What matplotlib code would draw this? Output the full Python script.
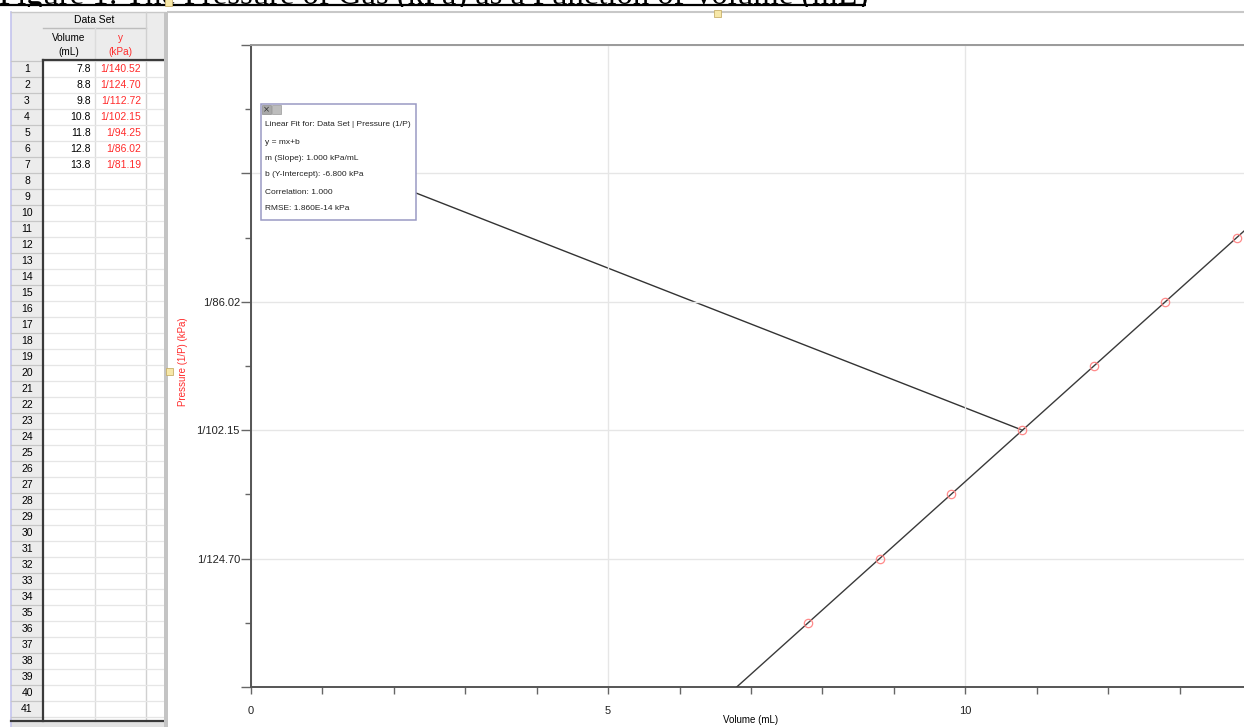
import matplotlib
matplotlib.use("Agg")
import numpy as np
import matplotlib.pyplot as plt
from matplotlib.patches import Rectangle, ConnectionPatch
from matplotlib.ticker import FixedLocator, MultipleLocator, FuncFormatter

# ---- data -----------------------------------------------------------------
volume_ml = [7.8, 8.8, 9.8, 10.8, 11.8, 12.8, 13.8]
pressure_labels = ["1/140.52", "1/124.70", "1/112.72", "1/102.15",
                   "1/94.25", "1/86.02", "1/81.19"]
inv_pressure = [1, 2, 3, 4, 5, 6, 7]          # plotted values of the 1/P column
labeled_rows = [1, 3, 5]                      # rows whose 1/P text labels the y axis
fit_slope = 1.000
fit_intercept = -6.800
fit_lines = ["Linear Fit for: Data Set | Pressure (1/P)",
             "y = mx+b",
             "m (Slope): 1.000 kPa/mL",
             "b (Y-Intercept): -6.800 kPa",
             "Correlation: 1.000",
             "RMSE: 1.860E-14 kPa"]
x_major = [0, 5, 10]
y_major = [0, 2, 4, 6, 8, 10]
n_table_rows = 41

TITLE = "Figure 1: The Pressure of Gas (kPa) as a Function of Volume (mL)"
UI = "Liberation Sans"
RED = "#ff2b2b"

W, H = 1244, 727
fig = plt.figure(figsize=(W / 100, H / 100), dpi=100)

# ---- background layer (pixel coordinates) ---------------------------------
bg = fig.add_axes([0, 0, 1, 1], zorder=0)
bg.set_xlim(0, W)
bg.set_ylim(H, 0)
bg.axis("off")

bg.text(-1, 3.5, TITLE, family="Liberation Serif", fontsize=23.5, ha="left",
        va="baseline", color="black", zorder=1, clip_on=False)
bg.plot([0, 866], [5, 5], color="black", lw=1.6, zorder=1, solid_capstyle="butt")
bg.add_patch(Rectangle((0, 6.5), W, H, facecolor="white", edgecolor="none", zorder=2))

# spreadsheet panel
z = 3
bg.add_patch(Rectangle((11, 12), 32, 710, facecolor="#ececec", edgecolor="none", zorder=z))
bg.add_patch(Rectangle((43, 12), 122, 48, facecolor="#ececec", edgecolor="none", zorder=z))
bg.plot([11, 11], [12, 727], color="#c4c4ee", lw=1.2, zorder=z + 1)
bg.plot([11, 165], [12, 12], color="#c8c8c8", lw=1, zorder=z + 1)
bg.plot([43, 146], [28, 28], color="#bdbdbd", lw=1, zorder=z + 1)
bg.plot([146, 146], [12, 721], color="#d0d0d0", lw=1, zorder=z + 1)
bg.plot([95, 95], [28, 721], color="#dcdcdc", lw=1, zorder=z + 1)
for k in range(n_table_rows + 1):
    yy = 61 + 16 * k
    if yy > 721:
        break
    bg.plot([43, 165], [yy, yy], color="#e6e6e6", lw=0.9, zorder=z + 1)
    bg.plot([11, 43], [yy, yy], color="#c6c6c6", lw=0.9, zorder=z + 1)
bg.plot([43, 43], [60, 721], color="#3a3a3a", lw=1.6, zorder=z + 2)
bg.plot([43, 165], [60, 60], color="#3a3a3a", lw=1.6, zorder=z + 2)
bg.plot([11, 165], [721, 721], color="#3a3a3a", lw=1.6, zorder=z + 2)
bg.add_patch(Rectangle((11, 722), 154, 6, facecolor="#e2e2e2", edgecolor="none", zorder=z))
bg.add_patch(Rectangle((164, 12), 4, 716, facecolor="#c4c4c4", edgecolor="none", zorder=z + 2))

bg.text(94, 20, "Data Set", family=UI, fontsize=7.5, ha="center", va="center", zorder=z + 3)
bg.text(69, 38, "Volume", family=UI, fontsize=7.2, ha="center", va="center", zorder=z + 3)
bg.text(69, 52, "(mL)", family=UI, fontsize=7.2, ha="center", va="center", zorder=z + 3)
bg.text(120, 38, "y", family=UI, fontsize=7.2, ha="center", va="center", color=RED, zorder=z + 3)
bg.text(120, 52, "(kPa)", family=UI, fontsize=7.2, ha="center", va="center", color=RED, zorder=z + 3)
for k in range(n_table_rows):
    bg.text(27, 69 + 16 * k, str(k + 1), family=UI, fontsize=7.5, ha="center",
            va="center", zorder=z + 3)
for k, (v, lab) in enumerate(zip(volume_ml, pressure_labels)):
    yy = 69 + 16 * k
    bg.text(91, yy, f"{v:.1f}", family=UI, fontsize=7.5, ha="right", va="center", zorder=z + 3)
    bg.text(141, yy, lab, family=UI, fontsize=7.5, ha="right", va="center",
            color=RED, zorder=z + 3)

# graph frame top edge
bg.plot([168, W], [12, 12], color="#c8c8c8", lw=1.5, zorder=z)

# axis titles
bg.text(751, 720, "Volume (mL)", family=UI, fontsize=7, ha="center", va="center", zorder=z)
bg.text(183, 362, "Pressure (1/P) (kPa)", family=UI, fontsize=7, ha="center",
        va="center", rotation=90, color=RED, zorder=z)

# ---- graph ----------------------------------------------------------------
ax = fig.add_axes([251 / W, (H - 687) / H, 1000 / W, 642 / H], zorder=1)
ax.patch.set_alpha(0)
ax.set_xlim(0, 14)
ax.set_ylim(0, 10)

ax.xaxis.set_major_locator(FixedLocator(x_major))
ax.xaxis.set_minor_locator(MultipleLocator(1))
ax.yaxis.set_major_locator(FixedLocator(y_major))
ax.yaxis.set_minor_locator(MultipleLocator(1))

ytext = {inv_pressure[i]: pressure_labels[i] for i in labeled_rows}
ax.yaxis.set_major_formatter(FuncFormatter(lambda v, p: ytext.get(int(round(v)), "")))

ax.tick_params(axis="x", which="both", direction="out", length=5, width=1,
               color="#666666", pad=9, labelsize=8, labelcolor="#222222")
ax.tick_params(axis="y", which="major", direction="out", length=7, width=1,
               color="#666666", pad=1, labelsize=8, labelcolor="#222222")
ax.tick_params(axis="y", which="minor", direction="out", length=4, width=1, color="#666666")
for lbl in ax.get_xticklabels() + ax.get_yticklabels():
    lbl.set_family(UI)

ax.grid(True, which="major", color="#e6e6e6", lw=1)
ax.set_axisbelow(True)
for side in ("left", "bottom"):
    ax.spines[side].set_color("#555555")
    ax.spines[side].set_linewidth(1.4)
ax.spines["top"].set_color("#9a9a9a")
ax.spines["top"].set_linewidth(1.4)
ax.spines["right"].set_visible(False)

fx = np.array([0.0, 14.0])
ax.plot(fx, fit_slope * fx + fit_intercept, color="#3a3a3a", lw=1.0, zorder=3)
ax.plot(volume_ml, inv_pressure, "o", mfc="none", mec="#ff8a8a", ms=6, mew=0.9, zorder=4)

# ---- foreground layer: fit statistics box and handles ---------------------
fg = fig.add_axes([0, 0, 1, 1], zorder=2)
fg.set_xlim(0, W)
fg.set_ylim(H, 0)
fg.axis("off")
fg.patch.set_alpha(0)

fg.add_patch(Rectangle((261, 104), 155, 116, facecolor="white", edgecolor="#9a9ac4", lw=1.1))
fg.add_patch(Rectangle((262, 105), 9, 9, facecolor="#a8a8a8", edgecolor="#8a8a8a", lw=0.5))
fg.text(266.5, 109.5, "×", family="DejaVu Sans", fontsize=6, ha="center", va="center", color="#333333")
fg.add_patch(Rectangle((272, 105), 9, 9, facecolor="#bdbdbd", edgecolor="#9a9a9a", lw=0.5))
for yy, line in zip([124, 142, 158, 175, 192, 209], fit_lines):
    fg.text(265, yy, line, family=UI, fontsize=6, ha="left", va="center", color="#222222")

con = ConnectionPatch(xyA=(416, 193), coordsA=fg.transData,
                      xyB=(volume_ml[3], inv_pressure[3]), coordsB=ax.transData,
                      color="#333333", lw=1.0)
fig.add_artist(con)

for cx, cy in [(168, 2), (717, 13), (169, 371)]:
    fg.add_patch(Rectangle((cx - 3.5, cy - 3.5), 7, 7, facecolor="#f6e7a8",
                           edgecolor="#c8b06a", lw=0.6, zorder=5))

fig.savefig("out.png", dpi=100)
